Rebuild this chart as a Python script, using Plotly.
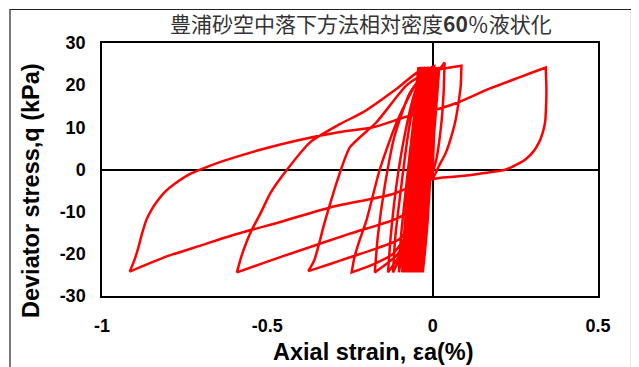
import plotly.graph_objects as go

# ---- data: path of the deviator stress / axial strain record ----
strain_start = [0.0, 0.004, 0.008, 0.012]
q_start = [0.0, 8, 16, 24.2]

# small (dense) cycles : unload (top -> bottom) then reload (bottom -> next top)
strain_small = [
    0.012, 0.004, -0.006, -0.015, -0.024, -0.030,
    -0.030, -0.026, -0.015, -0.003, 0.008, 0.016,
    0.016, 0.006, -0.005, -0.017, -0.027, -0.035,
    -0.035, -0.030, -0.017, -0.003, 0.010, 0.020,
    0.020, 0.008, -0.005, -0.019, -0.031, -0.040,
    -0.040, -0.035, -0.023, -0.010, 0.001, 0.010,
    0.010, -0.001, -0.013, -0.026, -0.037, -0.045,
    -0.045, -0.040, -0.028, -0.016, -0.005, 0.004,
    0.004, -0.007, -0.019, -0.031, -0.042, -0.050,
    -0.050, -0.045, -0.033, -0.021, -0.011, -0.002,
    -0.002, -0.013, -0.024, -0.036, -0.047, -0.055,
    -0.055, -0.051, -0.039, -0.028, -0.018, -0.010,
    -0.010, -0.020, -0.031, -0.043, -0.053, -0.060,
    -0.060, -0.056, -0.045, -0.035, -0.026, -0.018,
    -0.018, -0.028, -0.038, -0.049, -0.059, -0.066,
    -0.066, -0.062, -0.052, -0.042, -0.033, -0.026,
    -0.026, -0.035, -0.045, -0.056, -0.065, -0.072,
    -0.072, -0.068, -0.058, -0.048, -0.039, -0.032,
    -0.032, -0.041, -0.051, -0.062, -0.071, -0.078,
    -0.078, -0.074, -0.064, -0.054, -0.045, -0.038,
    -0.038, -0.047, -0.058, -0.069, -0.078, -0.085,
    -0.085, -0.081, -0.070, -0.060, -0.051, -0.043,
    -0.043, -0.053, -0.064, -0.075, -0.085, -0.092,
    -0.092, -0.087, -0.074, -0.061, -0.049, -0.040,
    -0.040, -0.052, -0.066, -0.080, -0.093, -0.102,
    -0.102, -0.096, -0.080, -0.063, -0.048, -0.036,
]
q_small = [
    24.3, 12, 0, -12, -20, -24.4,
    -24.4, -16, -4, 8, 18, 24.3,
] * 13

# growing cycles
strain_large = [
    # cycle 14
    -0.036, -0.044, -0.056, -0.072, -0.095, -0.120,
    -0.120, -0.113, -0.095, -0.075, -0.052, -0.030,
    # cycle 15
    -0.030, -0.038, -0.050, -0.068, -0.098, -0.135,
    -0.135, -0.127, -0.110, -0.085, -0.055, -0.022,
    # cycle 16
    -0.022, -0.030, -0.042, -0.062, -0.105, -0.175,
    -0.175, -0.166, -0.145, -0.115, -0.070, -0.012,
    # cycle 17
    -0.012, -0.020, -0.032, -0.055, -0.120, -0.180, -0.245,
    -0.245, -0.237, -0.222, -0.200, -0.160, -0.110, -0.060, -0.020, 0.005,
    # cycle 18
    0.005, -0.003, -0.015, -0.030, -0.060, -0.100, -0.180, -0.250, -0.310, -0.376,
    -0.376, -0.358, -0.343, -0.330, -0.310, -0.285, -0.250, -0.170, -0.080, -0.030, 0.020, 0.036,
    # cycle 19
    0.036, 0.033, 0.025, 0.010, -0.020, -0.060, -0.120, -0.250, -0.450, -0.592,
    -0.592, -0.580, -0.562, -0.545, -0.520, -0.490, -0.450, -0.370, -0.280, -0.210, -0.110, -0.040, 0.020, 0.087,
    # cycle 20
    0.087, 0.085, 0.080, 0.070, 0.060, 0.040, 0.020, 0.000, -0.050, -0.120, -0.310, -0.450, -0.610, -0.700, -0.800, -0.916,
    -0.916, -0.902, -0.890, -0.880, -0.866, -0.850, -0.832, -0.808, -0.780, -0.732, -0.680, -0.630, -0.530, -0.410, -0.280, -0.180, -0.080, 0.020, 0.080, 0.170, 0.260, 0.342,
    # final unloading
    0.342, 0.344, 0.343, 0.340, 0.332, 0.322, 0.305, 0.282, 0.255, 0.222, 0.142, 0.080, 0.020, -0.005,
]
q_large = [
    24.3, 12, 0, -12, -20, -24.4,
    -24.4, -16, -4, 8, 18, 24.3,
    24.3, 12, 0, -12, -20, -24.4,
    -24.4, -16, -4, 8, 18, 24.3,
    24.3, 12, 0, -12, -20, -24.4,
    -24.4, -16, -4, 8, 18, 24.3,
    24.3, 12, 0, -12, -20, -22.5, -24.4,
    -24.4, -21, -17, -12, 0, 11, 19, 23.5, 24.5,
    24.5, 15, 5, -5, -12, -16.5, -19, -20.8, -22.4, -24.1,
    -24.1, -21.5, -17.5, -13.5, -8.1, -1.8, 5.3, 11.2, 19.9, 22.5, 23.8, 25.4,
    25.4, 18, 10, 2, -5, -9.5, -12, -15.2, -20.5, -24.4,
    -24.4, -21, -17, -14, -10.3, -5.5, -1, 6.5, 10.8, 13.6, 19.1, 23.3, 23.8, 24.6,
    24.6, 20, 16.8, 12, 8.8, 4, 1, -2, -3.5, -5.8, -9.0, -12.2, -15.7, -18, -20.5, -24.2,
    -24.2, -21.5, -18.5, -15.5, -12, -9.5, -7.4, -5.2, -3.4, -1.0, 0.7, 2.1, 4.5, 6.9, 8.9, 10, 12.5, 14.4, 16, 19.1, 21.8, 24.2,
    24.2, 19.1, 15, 11.2, 8.5, 6.5, 4.3, 2.5, 1.2, 0.0, -1.0, -1.6, -2.0, -2.4,
]

x_tick_vals = [-1, -0.5, 0, 0.5]
x_tick_text = ["-1", "-0.5", "0", "0.5"]
y_tick_vals = [-30, -20, -10, 0, 10, 20, 30]
y_tick_text = ["-30", "-20", "-10", "0", "10", "20", "30"]

title_text = "豊浦砂空中落下方法相対密度<b>60</b>％液状化"
x_title = "Axial strain, εa(%)"
y_title = "Deviator stress,q (kPa)"

strain = strain_start + strain_small + strain_large
stress = q_start + q_small + q_large

fig = go.Figure()
fig.add_trace(go.Scatter(
    x=strain, y=stress, mode="lines",
    line=dict(color="#FF0000", width=2.5, shape="spline", smoothing=0.6),
    hoverinfo="skip", showlegend=False,
))

# the page body has an 8px default margin, so the figure is drawn 8px smaller
# and all page positions are shifted by that offset
OFF = 8
W, H = 639 - OFF, 367 - OFF
L, R, T, B = 102 - OFF, 598 - OFF, 43 - OFF, 296 - OFF

tick_font = dict(family="Liberation Sans, Arial, sans-serif", size=18, color="black", weight="bold")
fig.update_layout(
    width=W, height=H,
    margin=dict(l=L, r=W - R, t=T, b=H - B, pad=0),
    paper_bgcolor="white", plot_bgcolor="white",
    showlegend=False,
    xaxis=dict(range=[-1, 0.5], tickvals=x_tick_vals, ticktext=x_tick_text,
               showgrid=False, zeroline=True, zerolinecolor="black", zerolinewidth=1.5,
               showline=True, mirror=True, linecolor="black", linewidth=1.5,
               ticks="", ticklabelstandoff=13, automargin=False,
               tickfont=tick_font),
    yaxis=dict(range=[-30, 30], tickvals=y_tick_vals, ticktext=y_tick_text,
               showgrid=False, zeroline=True, zerolinecolor="black", zerolinewidth=1.5,
               showline=True, mirror=True, linecolor="black", linewidth=1.5,
               ticks="", ticklabelstandoff=11, automargin=False,
               tickfont=tick_font),
)

def px_x(p):
    return (p - OFF - L) / (R - L)

def px_y(p):
    return (B - (p - OFF)) / (B - T)

fig.add_annotation(text=title_text, xref="paper", yref="paper",
                   x=px_x(361), y=px_y(23), showarrow=False,
                   xanchor="center", yanchor="middle",
                   font=dict(family="Noto Sans CJK JP", size=21, color="#333333"))
fig.add_annotation(text="<b>" + x_title + "</b>", xref="paper", yref="paper",
                   x=px_x(373), y=px_y(352), showarrow=False,
                   xanchor="center", yanchor="middle",
                   font=dict(family="Liberation Sans, Arial, sans-serif", size=23.5, color="black"))
fig.add_annotation(text="<b>" + y_title + "</b>", xref="paper", yref="paper",
                   x=px_x(31), y=px_y(191), showarrow=False, textangle=-90,
                   xanchor="center", yanchor="middle",
                   font=dict(family="Liberation Sans, Arial, sans-serif", size=23.5, color="black"))

fig.add_shape(type="rect", xref="paper", yref="paper",
              x0=px_x(10), x1=px_x(631.5), y0=px_y(9.5), y1=px_y(380),
              line=dict(color="#222222", width=1.2), layer="below")

fig.write_html("out.html")
